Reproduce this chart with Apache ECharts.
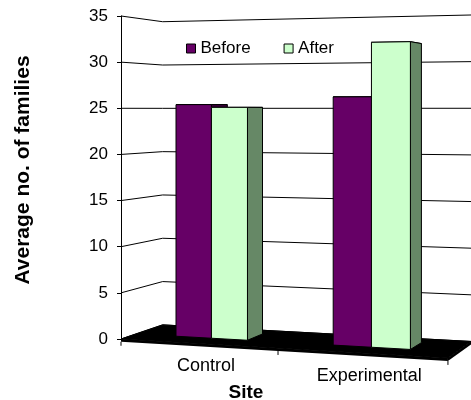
<!DOCTYPE html>
<html>
<head>
<meta charset="utf-8">
<script src="https://cdn.jsdelivr.net/npm/echarts@6/dist/echarts.min.js"></script>
<style>
  html, body { margin: 0; padding: 0; background: #fff; }
  #chart { width: 471px; height: 400px; }
</style>
</head>
<body>
<div id="chart"></div>
<script>
// Data
const categories = ['Control', 'Experimental'];
const before = [25.4, 26.2];
const after = [25.1, 31.9];
const yTicks = [0, 5, 10, 15, 20, 25, 30, 35];

// Simple two-point perspective camera used for the 3-D column look.
// World units along the floor are expressed in value units.
const CAM = { px: 300, horizon: 109, f: 1441, sinB: 0.3278, cosB: 0.9447, l0: -19.39, d0: 156.1 };
const FLOOR_W = 36.2, FLOOR_D = 10.8;
const BAR_W = 4.2, BAR_Z0 = 3.7, BAR_Z1 = 8.3;
const FONT = "'Liberation Sans', Arial, sans-serif";

// Project (X along floor, Z depth, v value) to pixels; the value goes
// through the y axis scale at the front-left edge, then gets foreshortened.
function project(api, X, Z, v) {
  const l = CAM.l0 + X * CAM.cosB + Z * CAM.sinB;
  const d = CAM.d0 - X * CAM.sinB + Z * CAM.cosB;
  const axisY = api.coord([0, v])[1];
  return [CAM.px + CAM.f * l / d, CAM.horizon + (axisY - CAM.horizon) * CAM.d0 / d];
}

function box(api, X1, X2, v, colors) {
  const p = (X, Z, h) => project(api, X, Z, h);
  const st = fill => ({ fill: fill, stroke: '#000', lineWidth: 1, lineJoin: 'round' });
  return [
    { type: 'polygon', shape: { points: [p(X1, BAR_Z0, v), p(X2, BAR_Z0, v), p(X2, BAR_Z1, v), p(X1, BAR_Z1, v)] }, style: st(colors.top) },
    { type: 'polygon', shape: { points: [p(X2, BAR_Z0, 0), p(X2, BAR_Z1, 0), p(X2, BAR_Z1, v), p(X2, BAR_Z0, v)] }, style: st(colors.side) },
    { type: 'polygon', shape: { points: [p(X1, BAR_Z0, 0), p(X2, BAR_Z0, 0), p(X2, BAR_Z0, v), p(X1, BAR_Z0, v)] }, style: st(colors.front) }
  ];
}

function barSeries(name, values, colors, leftSide) {
  return {
    type: 'custom', name: name, silent: true,
    itemStyle: { color: colors.front },
    data: values.map((v, i) => [i, v]),
    renderItem(params, api) {
      const i = api.value(0), v = api.value(1);
      const cx = (i + 0.5) * FLOOR_W / categories.length;
      const X1 = leftSide ? cx - BAR_W : cx;
      const X2 = leftSide ? cx : cx + BAR_W;
      return { type: 'group', children: box(api, X1, X2, v, colors) };
    }
  };
}

const chart = echarts.init(document.getElementById('chart'));
chart.setOption({
  animation: false,
  backgroundColor: '#fff',
  grid: { left: 121, right: 20, top: 16, bottom: 61 },
  xAxis: { type: 'category', data: categories, show: false },
  yAxis: {
    type: 'value', min: 0, max: 35, interval: 5,
    axisLine: { show: true, lineStyle: { color: '#000', width: 1 } },
    axisTick: { show: true, length: 4, lineStyle: { color: '#000' } },
    axisLabel: { color: '#000', fontSize: 17, fontFamily: FONT, margin: 13 },
    splitLine: { show: false }
  },
  legend: {
    data: ['Before', 'After'], icon: 'rect', left: 181, top: 35,
    itemWidth: 9, itemHeight: 9, itemGap: 33,
    itemStyle: { borderColor: '#000', borderWidth: 1 },
    textStyle: { color: '#000', fontSize: 17, fontFamily: FONT }
  },
  graphic: [
    { type: 'text', x: 23, y: 170, rotation: Math.PI / 2,
      style: { text: 'Average no. of families', fill: '#000', font: 'bold 21px ' + FONT, align: 'center', verticalAlign: 'middle' } },
    { type: 'text', x: 246, y: 393,
      style: { text: 'Site', fill: '#000', font: 'bold 19px ' + FONT, align: 'center', verticalAlign: 'middle' } }
  ],
  series: [
    // wall gridlines: side wall then back wall
    {
      type: 'custom', silent: true, data: yTicks.map(v => [0, v]),
      renderItem(params, api) {
        const v = api.value(1);
        return { type: 'polyline', shape: { points: [project(api, 0, 0, v), project(api, 0, FLOOR_D, v), project(api, FLOOR_W, FLOOR_D, v)] },
                 style: { stroke: '#000', lineWidth: 1, fill: null } };
      }
    },
    // black floor slab
    {
      type: 'custom', silent: true, data: [[0, 0]],
      renderItem(params, api) {
        const p = (X, Z, h) => project(api, X, Z, h);
        const t = -0.3;
        return { type: 'group', children: [
          { type: 'polygon', shape: { points: [p(0, 0, 0), p(0, FLOOR_D, 0), p(FLOOR_W, FLOOR_D, 0), p(FLOOR_W, 0, 0)] }, style: { fill: '#000', stroke: '#000', lineWidth: 1 } },
          { type: 'polygon', shape: { points: [p(0, 0, 0), p(FLOOR_W, 0, 0), p(FLOOR_W, 0, t), p(0, 0, t)] }, style: { fill: '#000' } },
          { type: 'polygon', shape: { points: [p(FLOOR_W, 0, 0), p(FLOOR_W, FLOOR_D, 0), p(FLOOR_W, FLOOR_D, t), p(FLOOR_W, 0, t)] }, style: { fill: '#000' } }
        ] };
      }
    },
    // category ticks and labels along the floor's front edge
    {
      type: 'custom', silent: true, data: categories.map((c, i) => [i, 0]),
      renderItem(params, api) {
        const i = api.value(0);
        const n = categories.length;
        const step = FLOOR_W / n;
        const kids = [];
        const ticks = i === n - 1 ? [i, i + 1] : [i];
        ticks.forEach(k => {
          const q = project(api, k * step, 0, -0.3);
          kids.push({ type: 'line', shape: { x1: q[0], y1: q[1], x2: q[0], y2: q[1] + 4 }, style: { stroke: '#000', lineWidth: 1 } });
        });
        const c = project(api, (i + 0.5) * step, 0, 0);
        kids.push({ type: 'text', x: c[0] + 8, y: c[1] + 23,
          style: { text: categories[i], fill: '#000', font: '18px ' + FONT, align: 'center', verticalAlign: 'middle' } });
        return { type: 'group', children: kids };
      }
    },
    barSeries('Before', before, { front: '#660066', side: '#3d003d', top: '#520052' }, true),
    barSeries('After', after, { front: '#ccffcc', side: '#668866', top: '#a3cca3' }, false)
  ]
});
</script>
</body>
</html>
